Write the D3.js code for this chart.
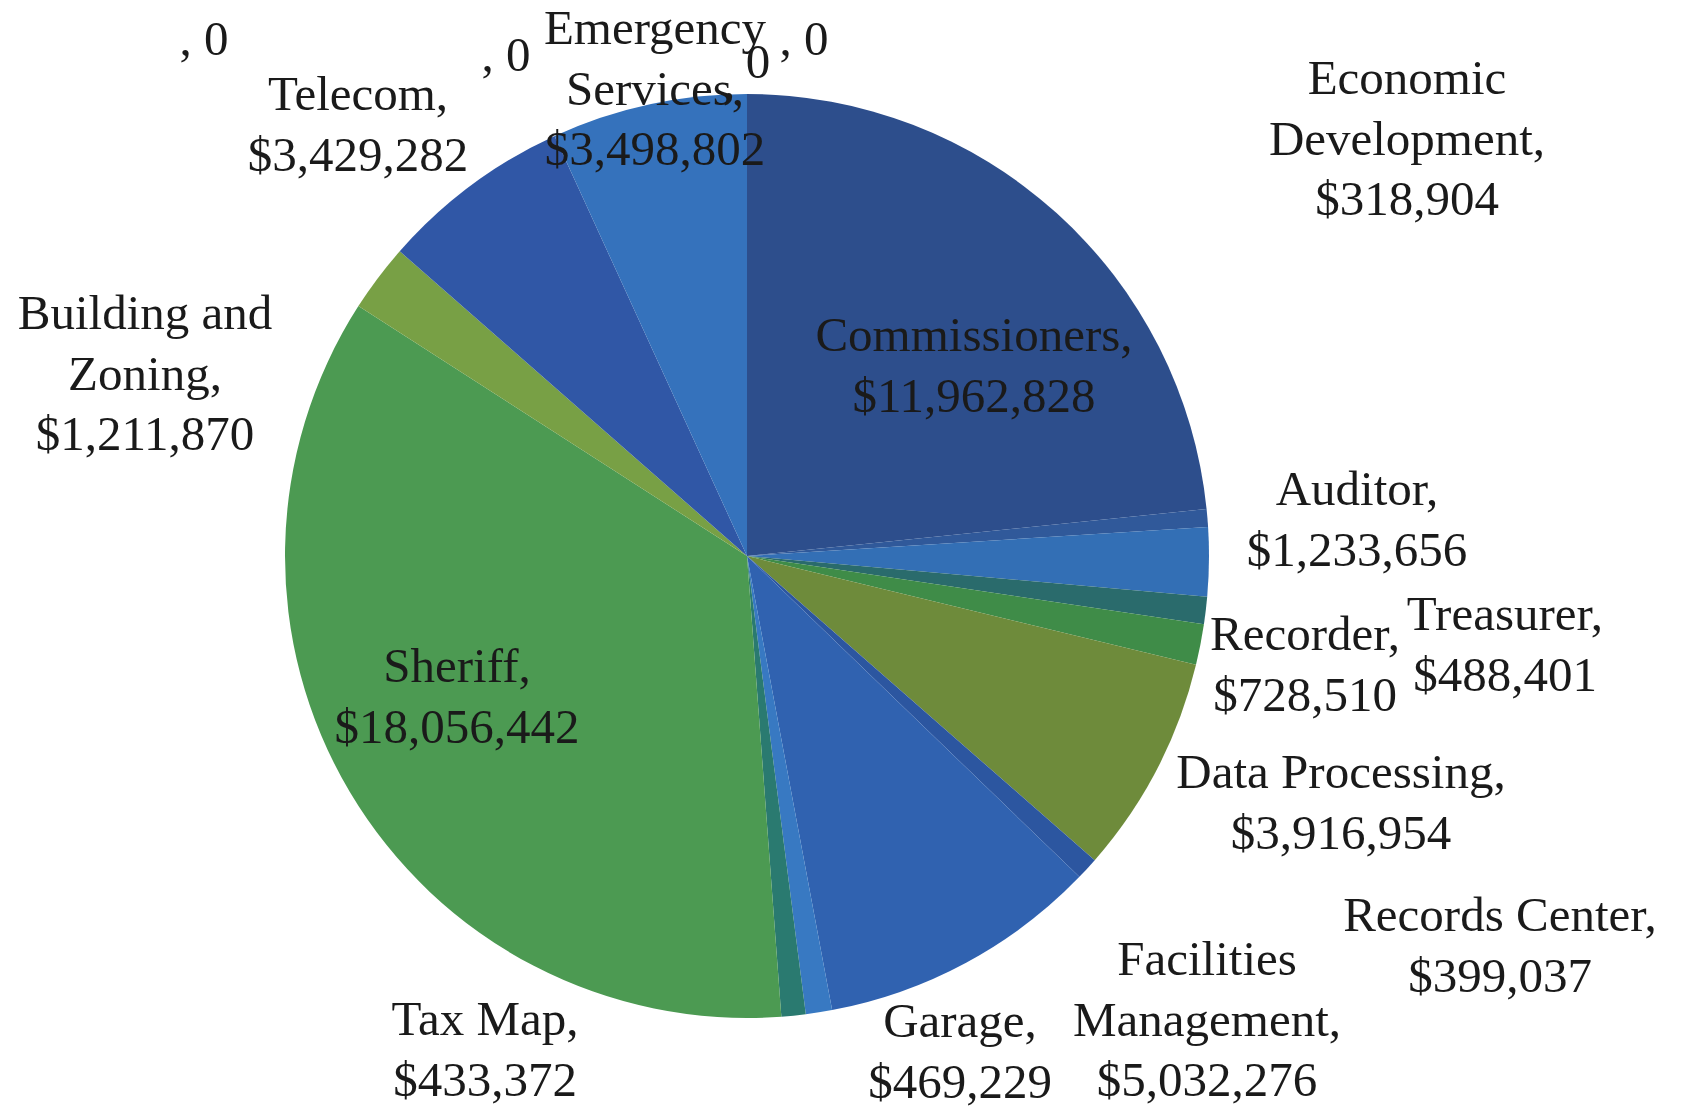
<!DOCTYPE html>
<html>
<head>
<meta charset="utf-8">
<script src="https://cdn.jsdelivr.net/npm/d3@7"></script>
<style>
  html, body { margin: 0; padding: 0; background: #ffffff; }
  svg { display: block; }
  text { font-family: "Liberation Serif", "DejaVu Serif", serif; fill: #1a1a1a; }
</style>
</head>
<body>
<svg id="chart" width="1682" height="1108"></svg>
<script>
// ---- data ----
const categories = ["Commissioners", "Economic Development", "Auditor", "Treasurer", "Recorder",
  "Data Processing", "Records Center", "Facilities Management", "Garage", "Tax Map",
  "Sheriff", "Building and Zoning", "Telecom", "Emergency Services", "", "", "", ""];
const values = [11962828, 318904, 1233656, 488401, 728510,
  3916954, 399037, 5032276, 469229, 433372,
  18056442, 1211870, 3429282, 3498802, 0, 0, 0, 0];

// ---- styles ----
const colors = ["#2D4E8C", "#30599A", "#336FB5", "#2A6B6C", "#3F8C48",
  "#6E8B3B", "#2C56A0", "#3062B0", "#3879C2", "#2A7A70",
  "#4C9A52", "#78A045", "#3057A6", "#3572BC", "#3572BC", "#3572BC", "#3572BC", "#3572BC"];

// label layout (first-line centre, wrap width in characters)
const labelLayout = [
  {x: 974, y: 334, wrap: 16},   // Commissioners
  {x: 1407, y: 77, wrap: 12},   // Economic Development
  {x: 1357, y: 488, wrap: 16},  // Auditor
  {x: 1505, y: 613, wrap: 16},  // Treasurer
  {x: 1305, y: 633, wrap: 16},  // Recorder
  {x: 1341, y: 771, wrap: 17},  // Data Processing
  {x: 1500, y: 914, wrap: 16},  // Records Center
  {x: 1207, y: 958, wrap: 11},  // Facilities Management
  {x: 960, y: 1020, wrap: 16},  // Garage
  {x: 485, y: 1018, wrap: 16},  // Tax Map
  {x: 457, y: 665, wrap: 16},   // Sheriff
  {x: 145, y: 312, wrap: 12},   // Building and Zoning
  {x: 358, y: 93, wrap: 16},    // Telecom
  {x: 655, y: 27, wrap: 10},    // Emergency Services
  {x: 204, y: 38, wrap: 16},
  {x: 506, y: 54, wrap: 16},
  {x: 804, y: 38, wrap: 16},
  {x: 758, y: 61, wrap: 16, split: true}
];

const W = 1682, H = 1108;
const cx = 747, cy = 556, R = 462;
const fontSize = 49, lineH = 60.5;

const svg = d3.select("#chart");
svg.append("rect").attr("width", W).attr("height", H).attr("fill", "#ffffff");

const data = categories.map((c, i) => ({name: c, value: values[i], i}));
const pie = d3.pie().sort(null).value(d => d.value);
const arc = d3.arc().innerRadius(0).outerRadius(R);

const g = svg.append("g").attr("transform", `translate(${cx},${cy})`);
g.selectAll("path").data(pie(data)).join("path")
  .attr("d", arc)
  .attr("fill", d => colors[d.data.i]);

const fmt = v => v === 0 ? "0" : "$" + d3.format(",")(v);

function wrapWords(str, maxChars) {
  const words = str.split(" ");
  const lines = [];
  let cur = "";
  words.forEach(w => {
    const t = cur ? cur + " " + w : w;
    if (t.length > maxChars && cur) { lines.push(cur); cur = w; }
    else cur = t;
  });
  if (cur) lines.push(cur);
  return lines;
}

const labels = svg.append("g");
data.forEach((d, i) => {
  const L = labelLayout[i];
  const t = labels.append("text")
    .attr("text-anchor", "middle")
    .attr("dominant-baseline", "central")
    .attr("font-size", fontSize);
  if (d.name === "") {
    if (L.split) {
      t.append("tspan").attr("x", L.x).attr("y", L.y).text(fmt(d.value));
      t.append("tspan").attr("x", L.x - 29).attr("y", L.y + 20).text(",");
    } else {
      t.append("tspan").attr("x", L.x).attr("y", L.y).text(", " + fmt(d.value));
    }
    return;
  }
  const lines = wrapWords(d.name + ",", L.wrap);
  lines.push(fmt(d.value));
  lines.forEach((ln, k) => {
    t.append("tspan").attr("x", L.x).attr("y", L.y + k * lineH).text(ln);
  });
});
</script>
</body>
</html>
